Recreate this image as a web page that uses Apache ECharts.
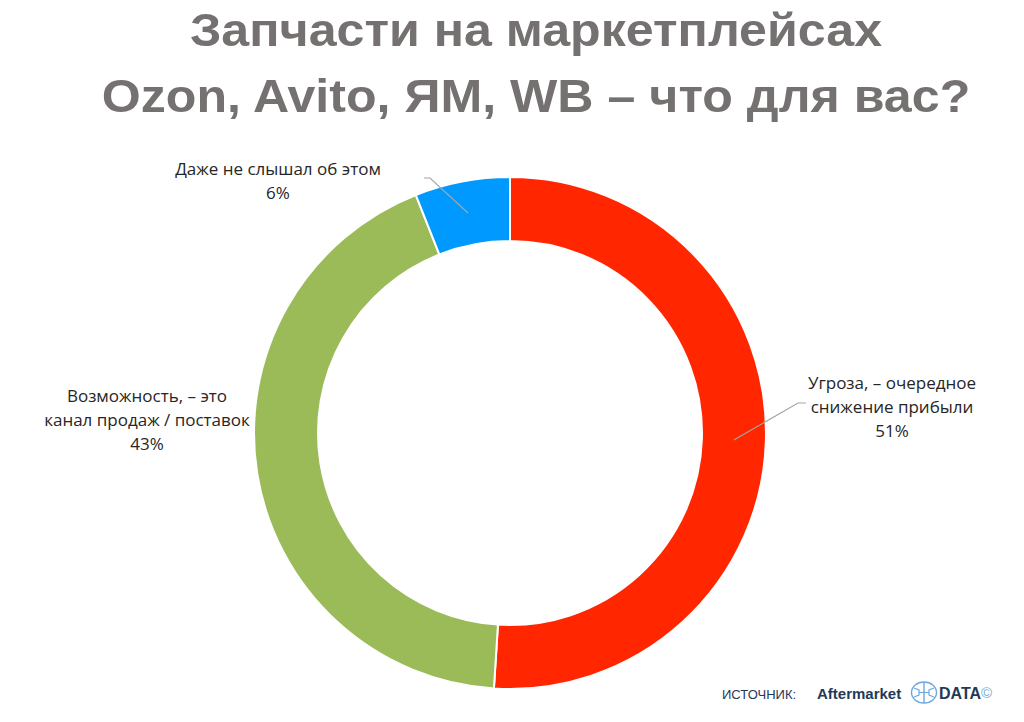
<!DOCTYPE html>
<html>
<head>
<meta charset="utf-8">
<script src="https://cdn.jsdelivr.net/npm/echarts@6/dist/echarts.min.js"></script>
<style>
  html, body { margin: 0; padding: 0; background: #fff; }
  #chart { width: 1024px; height: 722px; }
</style>
</head>
<body>
<div id="chart"></div>
<script>
// данные опроса
var categories = [
  'Угроза, – очередное\nснижение прибыли',
  'Возможность, – это\nканал продаж / поставок',
  'Даже не слышал об этом'
];
var shares = [51, 43, 6];
var sliceColors = ['#FF2600', '#9BBB59', '#0099FF'];
var titleLines = ['Запчасти на маркетплейсах', 'Ozon, Avito, ЯМ, WB – что для вас?'];

// куда ставить подписи (центр подписи, px) и излом выноски
var labelSpots = [
  {x: 892, y: 406, line: [[798, 403], [806, 403]]},
  {x: 147, y: 419, line: null},
  {x: 278, y: 180, line: [[430, 178], [424, 178]]}
];

var cx = 510, cy = 433, rIn = 192, rOut = 256;

var myChart = echarts.init(document.getElementById('chart'), null, {renderer: 'svg'});

var titleFont = 'bold 46px "Liberation Sans", Arial, sans-serif';
var footFont = '"Liberation Sans", Arial, sans-serif';
var brainColor = '#6FA8DC';

var pieData = categories.map(function (name, i) {
  return {name: name, value: shares[i], itemStyle: {color: sliceColors[i]}};
});

// выноски: от середины кольца на биссектрисе сектора к подписи
var total = shares.reduce(function (a, b) { return a + b; }, 0);
var leaderLines = [];
var cum = 0;
shares.forEach(function (v, i) {
  var a = (cum + v / 2) / total * Math.PI * 2;
  cum += v;
  if (!labelSpots[i].line) return;
  var rMid = (rIn + rOut) / 2;
  var start = [cx + rMid * Math.sin(a), cy - rMid * Math.cos(a)];
  leaderLines.push({
    type: 'polyline',
    z: 100,
    shape: {points: [start].concat(labelSpots[i].line)},
    style: {fill: 'none', stroke: '#A6A6A6', lineWidth: 1.2}
  });
});

var option = {
  backgroundColor: '#fff',
  animation: false,
  graphic: [
    {
      type: 'text', x: 536, y: 30, scaleX: 1.09, originX: 0,
      style: {text: titleLines[0], font: titleFont, fill: '#767171', align: 'center', verticalAlign: 'middle'}
    },
    {
      type: 'text', x: 536, y: 96, scaleX: 1.09, originX: 0,
      style: {text: titleLines[1], font: titleFont, fill: '#767171', align: 'center', verticalAlign: 'middle'}
    },
    {
      type: 'text', x: 722, y: 694,
      style: {text: 'ИСТОЧНИК:', font: '13px ' + footFont, fill: '#1F3A57', verticalAlign: 'middle'}
    },
    {
      type: 'text', x: 817, y: 693,
      style: {text: 'Aftermarket', font: 'bold 15px ' + footFont, fill: '#1F3A57', verticalAlign: 'middle'}
    },
    {
      type: 'group', x: 910, y: 681,
      children: [
        {type: 'ellipse', shape: {cx: 14, cy: 11.5, rx: 12.5, ry: 10.5},
          style: {fill: 'none', stroke: brainColor, lineWidth: 1.4}},
        {type: 'line', shape: {x1: 14, y1: 1, x2: 14, y2: 22},
          style: {stroke: brainColor, lineWidth: 1.4}},
        {type: 'polyline', shape: {points: [[4, 7], [9, 9], [9, 14], [4, 16]]},
          style: {fill: 'none', stroke: brainColor, lineWidth: 1.2}},
        {type: 'polyline', shape: {points: [[24, 7], [19, 9], [19, 14], [24, 16]]},
          style: {fill: 'none', stroke: brainColor, lineWidth: 1.2}},
        {type: 'line', shape: {x1: 9, y1: 11.5, x2: 19, y2: 11.5},
          style: {stroke: brainColor, lineWidth: 1.2}}
      ]
    },
    {
      type: 'text', x: 939, y: 693,
      style: {text: 'DATA', font: 'bold 16px ' + footFont, fill: '#1F3A57', verticalAlign: 'middle'}
    },
    {
      type: 'text', x: 981, y: 692,
      style: {text: '©', font: '15px ' + footFont, fill: brainColor, verticalAlign: 'middle'}
    }
  ].concat(leaderLines),
  series: [
    {
      type: 'pie',
      center: [cx, cy],
      radius: [rIn, rOut],
      startAngle: 90,
      clockwise: true,
      silent: true,
      avoidLabelOverlap: false,
      data: pieData,
      itemStyle: {borderColor: '#fff', borderWidth: 2},
      label: {
        show: true,
        position: 'outside',
        formatter: '{b}\n{d}%',
        fontFamily: '"Open Sans", "Noto Sans", sans-serif',
        fontSize: 17,
        lineHeight: 24,
        color: '#262626',
        align: 'center'
      },
      labelLine: {show: false},
      labelLayout: function (params) {
        var spot = labelSpots[params.dataIndex];
        return {x: spot.x, y: spot.y, align: 'center', verticalAlign: 'middle'};
      }
    }
  ]
};

myChart.setOption(option);
</script>
</body>
</html>
